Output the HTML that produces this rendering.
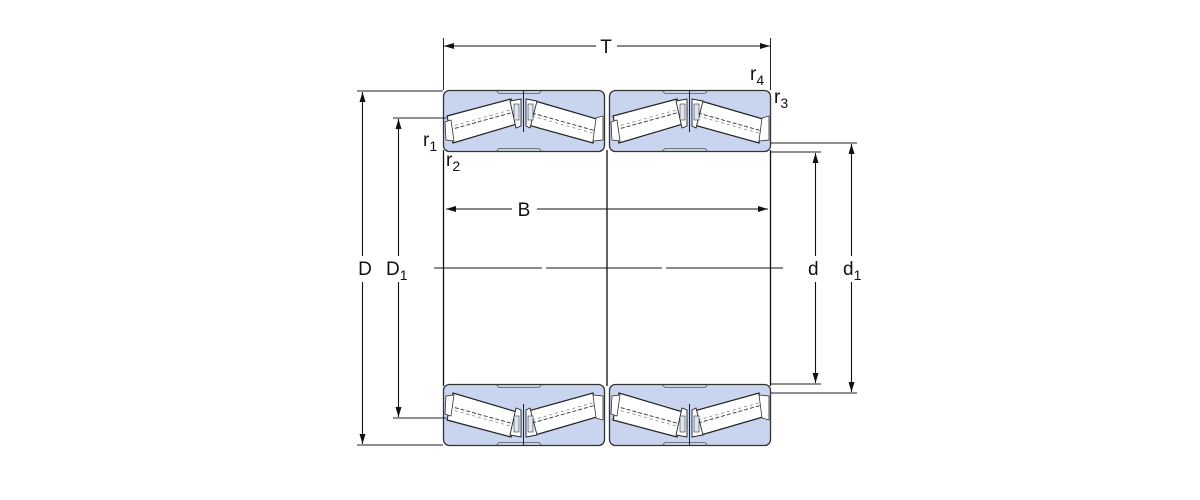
<!DOCTYPE html>
<html><head><meta charset="utf-8"><style>
html,body{margin:0;padding:0;background:#fff;}
svg{display:block;}
text{font-family:"Liberation Sans",Arial,sans-serif;fill:#111;}
</style></head><body>
<svg width="1200" height="500" viewBox="0 0 1200 500" xmlns="http://www.w3.org/2000/svg">
<defs>
<marker id="ar" viewBox="0 0 10 6" refX="10" refY="3" markerWidth="10" markerHeight="6" orient="auto-start-reverse" markerUnits="userSpaceOnUse">
<path d="M0,0 L10,3 L0,6 z" fill="#111"/>
</marker>
<g id="half">
<rect x="443.5" y="90.5" width="161" height="61" rx="6" fill="#c9d5ee" stroke="#333" stroke-width="1.3"/>
<path d="M496,90.5 l3,3 h40 l3,-3" fill="none" stroke="#555" stroke-width="0.8"/>
<path d="M496,151.5 l3,-3 h40 l3,3" fill="none" stroke="#555" stroke-width="0.8"/>
<line x1="523.5" y1="90" x2="523.5" y2="132" stroke="#222" stroke-width="1"/>
<polygon points="447,116 511,99 517,124 453,143" fill="#fff" stroke="#222" stroke-width="1.2"/>
<polygon points="535,101 597,119 593,143 528,125" fill="#fff" stroke="#222" stroke-width="1.2"/>
<line x1="449" y1="130" x2="514" y2="112" stroke="#444" stroke-width="1" stroke-dasharray="4,2"/>
<line x1="449" y1="127" x2="514" y2="109" stroke="#777" stroke-width="0.7" stroke-dasharray="3,3"/>
<line x1="532" y1="113" x2="596" y2="131" stroke="#444" stroke-width="1" stroke-dasharray="4,2"/>
<line x1="532" y1="116" x2="596" y2="134" stroke="#777" stroke-width="0.7" stroke-dasharray="3,3"/>
<polygon points="510,101 521,99 521,126 516,128" fill="#fff" stroke="#222" stroke-width="0.9"/>
<polygon points="526,99 537,101 530,128 526,126" fill="#fff" stroke="#222" stroke-width="0.9"/>
<rect x="514" y="104" width="5" height="16" fill="#dfe6f5" stroke="#333" stroke-width="0.6"/>
<rect x="528" y="104" width="5" height="16" fill="#dfe6f5" stroke="#333" stroke-width="0.6"/>
<polygon points="445,122 451,120 454,141 446,140" fill="#fff" stroke="#333" stroke-width="0.8"/>
<polygon points="596,118 603,116 603,140 593,141" fill="#fff" stroke="#333" stroke-width="0.8"/>
</g>
<g id="row">
<use href="#half"/>
<use href="#half" transform="translate(166,0)"/>
</g>
</defs>

<!-- bearing rows -->
<use href="#row"/>
<use href="#row" transform="translate(0,536) scale(1,-1)"/>

<!-- inner vertical lines -->
<g stroke="#111" stroke-width="1.3">
<line x1="443.5" y1="150" x2="443.5" y2="386"/>
<line x1="607" y1="150" x2="607" y2="386"/>
<line x1="770.5" y1="150" x2="770.5" y2="386"/>
</g>

<!-- centre line -->
<g stroke="#111" stroke-width="1">
<line x1="434" y1="268" x2="542" y2="268"/>
<line x1="546" y1="268" x2="662" y2="268"/>
<line x1="666" y1="268" x2="783" y2="268"/>
</g>

<!-- extension lines -->
<g stroke="#222" stroke-width="1">
<line x1="443.5" y1="38" x2="443.5" y2="90"/>
<line x1="770.5" y1="38" x2="770.5" y2="90"/>
<line x1="357" y1="91" x2="443" y2="91"/>
<line x1="357" y1="445" x2="443" y2="445"/>
<line x1="393" y1="118" x2="446" y2="118"/>
<line x1="393" y1="418" x2="446" y2="418"/>
<line x1="771" y1="143" x2="857" y2="143"/>
<line x1="771" y1="393" x2="857" y2="393"/>
<line x1="771" y1="152" x2="821" y2="152"/>
<line x1="771" y1="384" x2="821" y2="384"/>
</g>

<!-- dimension lines -->
<g stroke="#111" stroke-width="1.1" fill="none">
<line x1="444" y1="46" x2="596" y2="46" marker-start="url(#ar)"/>
<line x1="617" y1="46" x2="770" y2="46" marker-end="url(#ar)"/>
<line x1="446" y1="209" x2="512" y2="209" marker-start="url(#ar)"/>
<line x1="537" y1="209" x2="768" y2="209" marker-end="url(#ar)"/>
<line x1="362.5" y1="92" x2="362.5" y2="256" marker-start="url(#ar)"/>
<line x1="362.5" y1="282" x2="362.5" y2="444" marker-end="url(#ar)"/>
<line x1="398.5" y1="119" x2="398.5" y2="256" marker-start="url(#ar)"/>
<line x1="398.5" y1="282" x2="398.5" y2="417" marker-end="url(#ar)"/>
<line x1="815.5" y1="153" x2="815.5" y2="256" marker-start="url(#ar)"/>
<line x1="815.5" y1="282" x2="815.5" y2="383" marker-end="url(#ar)"/>
<line x1="851.5" y1="144" x2="851.5" y2="256" marker-start="url(#ar)"/>
<line x1="851.5" y1="282" x2="851.5" y2="392" marker-end="url(#ar)"/>
</g>

<!-- labels -->
<g font-size="19">
<text x="606" y="53" text-anchor="middle">T</text>
<text x="524" y="216" text-anchor="middle">B</text>
<text x="365" y="275" text-anchor="middle">D</text>
<text x="386" y="275">D<tspan font-size="14" dy="5">1</tspan></text>
<text x="808" y="275">d</text>
<text x="843" y="275">d<tspan font-size="14" dy="5">1</tspan></text>
<text x="423" y="146">r<tspan font-size="14" dy="5">1</tspan></text>
<text x="446" y="166">r<tspan font-size="14" dy="5">2</tspan></text>
<text x="774" y="103">r<tspan font-size="14" dy="5">3</tspan></text>
<text x="750" y="80">r<tspan font-size="14" dy="5">4</tspan></text>
</g>
</svg>
</body></html>
